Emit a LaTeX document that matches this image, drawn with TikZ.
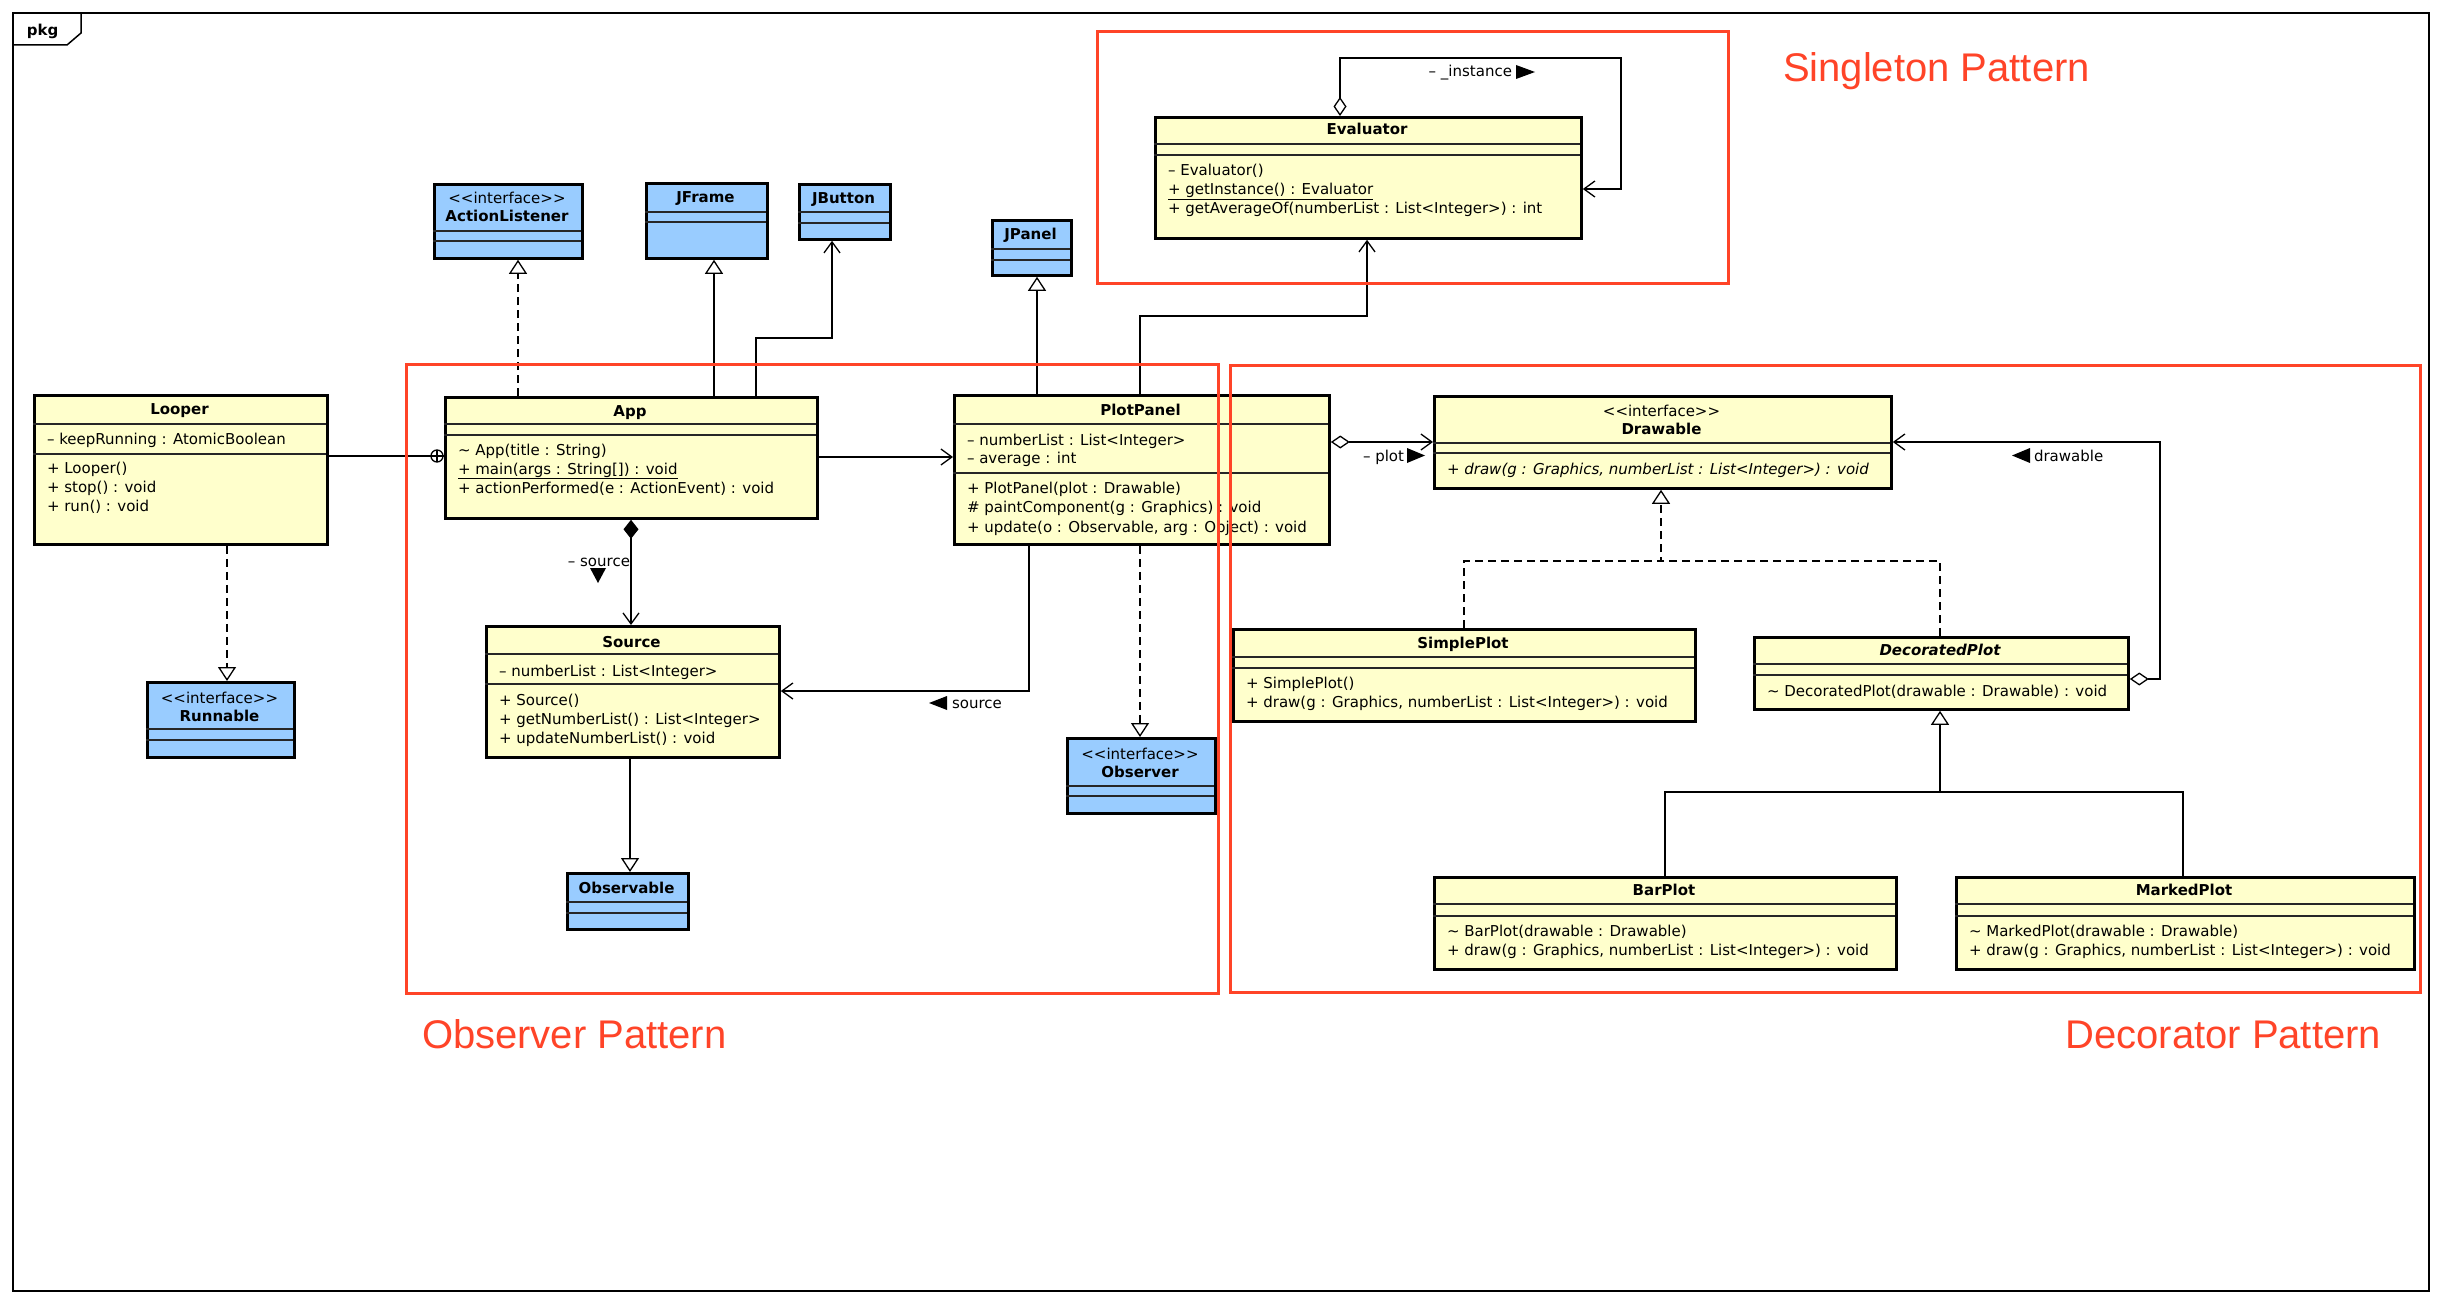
\documentclass[tikz,border=0pt]{standalone}
\usepackage{fontspec}
\setmainfont{DejaVu Sans}
\newfontfamily\patfont{Liberation Sans}
\usetikzlibrary{arrows.meta}
\definecolor{clsyellow}{HTML}{FFFFCC}
\definecolor{clsblue}{HTML}{99CCFF}
\definecolor{patred}{RGB}{255,68,40}
\newcommand\stereo{<\kern0pt<interface>\kern0pt>}
% name, left, top, right, bottom, fill, sep1, sep2
\newcommand\umlcls[8]{%
  \node[clsbox, fill=#6, minimum width={#4-#2}, minimum height={#5-#3}, anchor=north west] (#1) at (#2,#3) {};
  \draw[sepline] (#2,#7) -- (#4,#7) (#2,#8) -- (#4,#8);
}
\begin{document}
\begin{tikzpicture}[x=1pt,y=-1pt,
  clsbox/.style={draw=black, line width=2.8pt, inner sep=0pt},
  sepline/.style={line width=1.2pt, draw=black!85},
  mtext/.style={font=\fontsize{15}{18}\selectfont, inner sep=0pt, outer sep=0pt},
  ttext/.style={font=\fontsize{15}{18}\selectfont\bfseries, inner sep=0pt, outer sep=0pt},
  conn/.style={line width=1.3pt, draw=black},
  dashconn/.style={conn, dash pattern=on 8pt off 5pt},
  gentip/.style={-{Triangle[length=14pt,width=18pt,fill=white]}},
  navtip/.style={-{Straight Barb[length=11pt,width=16pt]}},
  comptip/.style={{Diamond[length=19pt,width=15pt]}-{Straight Barb[length=11pt,width=16pt]}},
  aggtip/.style={{Diamond[length=19pt,width=13pt,fill=white]}-{Straight Barb[length=11pt,width=16pt]}},
  redbox/.style={draw=patred, line width=3pt},
  pattxt/.style={font=\patfont\fontsize{40}{48}\selectfont, text=patred, inner sep=0pt, outer sep=0pt},
]
\fill[white] (0,0) rectangle (2440,1300);
\useasboundingbox (0,0) rectangle (2440,1300);

% frame
\draw[line width=1.5pt] (13,13) rectangle (2429,1291);
\draw[line width=1.5pt] (13,45) -- (67,45) -- (81,33) -- (81,13);
\node[ttext, anchor=base west] (pkglbl) at (27,36) {pkg};

% ---------------- classes ----------------
\umlcls{Looper}{33}{394}{326}{543}{clsyellow}{424}{454}
\node[ttext, anchor=base] (looper-t) at (179.5,414) {Looper};
\node[mtext, anchor=base west] (looper-a1) at (47,444) {– keepRunning : AtomicBoolean};
\node[mtext, anchor=base west] (looper-m1) at (47,473) {+ Looper()};
\node[mtext, anchor=base west] (looper-m2) at (47,492) {+ stop() : void};
\node[mtext, anchor=base west] (looper-m3) at (47,511) {+ run() : void};

\umlcls{Runnable}{146}{681}{293}{756}{clsblue}{729}{740}
\node[mtext, anchor=base] (runnable-s) at (219.5,703) {\stereo};
\node[ttext, anchor=base] (runnable-t) at (219.5,721) {Runnable};

\umlcls{ActionListener}{433}{183}{581}{257}{clsblue}{231}{241}
\node[mtext, anchor=base] (al-s) at (507,204) {\stereo};
\node[ttext, anchor=base] (al-t) at (507,222) {ActionListener};

\umlcls{JFrame}{645}{182}{766}{257}{clsblue}{212}{222}
\node[ttext, anchor=base] (jframe-t) at (705.5,202) {JFrame};

\umlcls{JButton}{798}{183}{889}{238}{clsblue}{212}{223}
\node[ttext, anchor=base] (jbutton-t) at (843.5,204) {JButton};

\umlcls{App}{444}{396}{816}{517}{clsyellow}{424}{435}
\node[ttext, anchor=base] (app-t) at (630,416) {App};
\node[mtext, anchor=base west] (app-m1) at (458,455) {\textasciitilde{} App(title : String)};
\node[mtext, anchor=base west] (app-m2) at (458,474) {\underline{+ main(args : String[]) : void}};
\node[mtext, anchor=base west] (app-m3) at (458,493) {+ actionPerformed(e : ActionEvent) : void};

\umlcls{Source}{485}{625}{778}{756}{clsyellow}{654}{684}
\node[ttext, anchor=base] (source-t) at (631.5,647) {Source};
\node[mtext, anchor=base west] (source-a1) at (499,676) {– numberList : List<Integer>};
\node[mtext, anchor=base west] (source-m1) at (499,705) {+ Source()};
\node[mtext, anchor=base west] (source-m2) at (499,724) {+ getNumberList() : List<Integer>};
\node[mtext, anchor=base west] (source-m3) at (499,743) {+ updateNumberList() : void};

\umlcls{Observable}{566}{872}{687}{928}{clsblue}{902}{913}
\node[ttext, anchor=base] (observable-t) at (626.5,893) {Observable};

\umlcls{JPanel}{991}{219}{1070}{274}{clsblue}{249}{260}
\node[ttext, anchor=base] (jpanel-t) at (1030.5,239) {JPanel};

\umlcls{PlotPanel}{953}{394}{1328}{543}{clsyellow}{424}{473}
\node[ttext, anchor=base] (pp-t) at (1140.5,415) {PlotPanel};
\node[mtext, anchor=base west] (pp-a1) at (967,445) {– numberList : List<Integer>};
\node[mtext, anchor=base west] (pp-a2) at (967,463) {– average : int};
\node[mtext, anchor=base west] (pp-m1) at (967,493) {+ PlotPanel(plot : Drawable)};
\node[mtext, anchor=base west] (pp-m2) at (967,512) {\# paintComponent(g : Graphics) : void};
\node[mtext, anchor=base west] (pp-m3) at (967,532) {+ update(o : Observable, arg : Object) : void};

\umlcls{Observer}{1066}{737}{1214}{812}{clsblue}{786}{796}
\node[mtext, anchor=base] (observer-s) at (1140,759) {\stereo};
\node[ttext, anchor=base] (observer-t) at (1140,777) {Observer};

\umlcls{Evaluator}{1154}{116}{1580}{237}{clsyellow}{144}{155}
\node[ttext, anchor=base] (eval-t) at (1367,135) {Evaluator};
\node[mtext, anchor=base west] (eval-m1) at (1168,176) {– Evaluator()};
\node[mtext, anchor=base west] (eval-m2) at (1168,195) {\underline{+ getInstance() : Evaluator}};
\node[mtext, anchor=base west] (eval-m3) at (1168,214) {+ getAverageOf(numberList : List<Integer>) : int};

\umlcls{Drawable}{1433}{395}{1890}{487}{clsyellow}{443}{453}
\node[mtext, anchor=base] (draw-s) at (1661.5,416) {\stereo};
\node[ttext, anchor=base] (draw-t) at (1661.5,434) {Drawable};
\node[mtext, anchor=base west] (draw-m1) at (1447,474) {\itshape + draw(g : Graphics, numberList : List<Integer>) : void};

\umlcls{SimplePlot}{1232}{628}{1694}{720}{clsyellow}{657}{668}
\node[ttext, anchor=base] (sp-t) at (1463,648) {SimplePlot};
\node[mtext, anchor=base west] (sp-m1) at (1246,688) {+ SimplePlot()};
\node[mtext, anchor=base west] (sp-m2) at (1246,707) {+ draw(g : Graphics, numberList : List<Integer>) : void};

\umlcls{DecoratedPlot}{1753}{636}{2127}{708}{clsyellow}{664}{675}
\node[ttext, anchor=base] (dp-t) at (1940,655) {\itshape DecoratedPlot};
\node[mtext, anchor=base west] (dp-m1) at (1767,696) {\textasciitilde{} DecoratedPlot(drawable : Drawable) : void};

\umlcls{BarPlot}{1433}{876}{1895}{968}{clsyellow}{904}{916}
\node[ttext, anchor=base] (bp-t) at (1664,895) {BarPlot};
\node[mtext, anchor=base west] (bp-m1) at (1447,936) {\textasciitilde{} BarPlot(drawable : Drawable)};
\node[mtext, anchor=base west] (bp-m2) at (1447,955) {+ draw(g : Graphics, numberList : List<Integer>) : void};

\umlcls{MarkedPlot}{1955}{876}{2413}{968}{clsyellow}{904}{916}
\node[ttext, anchor=base] (mp-t) at (2184,895) {MarkedPlot};
\node[mtext, anchor=base west] (mp-m1) at (1969,936) {\textasciitilde{} MarkedPlot(drawable : Drawable)};
\node[mtext, anchor=base west] (mp-m2) at (1969,955) {+ draw(g : Graphics, numberList : List<Integer>) : void};

% ---------------- connectors ----------------
\draw[dashconn, gentip] (Looper.south -| 227,0) -- (Runnable.north -| 227,0);
\draw[dashconn, gentip] (App.north -| 518,0) -- (ActionListener.south -| 518,0);
\draw[conn, gentip] (App.north -| 714,0) -- (JFrame.south -| 714,0);
\draw[conn, navtip] (App.north -| 756,0) |- (832,338) -- (JButton.south -| 832,0);
\draw[conn] (Looper.east |- 0,456) -- (App.west |- 0,456);
\draw[conn, fill=white] (437,456) circle (6);
\draw[conn] (431,456) -- (443,456) (437,450) -- (437,462);
\draw[conn, navtip] (App.east |- 0,457) -- (PlotPanel.west |- 0,457);
\draw[conn, comptip] (App.south -| 631,0) -- (Source.north -| 631,0);
\draw[conn, navtip] (PlotPanel.south -| 1029,0) |- (Source.east |- 0,691);
\draw[conn, gentip] (PlotPanel.north -| 1037,0) -- (JPanel.south -| 1037,0);
\draw[dashconn, gentip] (PlotPanel.south -| 1140,0) -- (Observer.north -| 1140,0);
\draw[conn, navtip] (PlotPanel.north -| 1140,0) |- (1367,316) -- (Evaluator.south -| 1367,0);
\draw[conn, gentip] (Source.south -| 630,0) -- (Observable.north -| 630,0);
\draw[conn, aggtip] (Evaluator.north -| 1340,0) |- (1621,58) |- (Evaluator.east |- 0,189);
\draw[conn, aggtip] (PlotPanel.east |- 0,442) -- (Drawable.west |- 0,442);
\draw[dashconn, gentip] (SimplePlot.north -| 1464,0) |- (1661,561) -- (Drawable.south -| 1661,0);
\draw[dashconn] (DecoratedPlot.north -| 1940,0) |- (1661,561);
\draw[conn, aggtip] (DecoratedPlot.east |- 0,679) -| (2160,442) -- (Drawable.east |- 0,442);
\draw[conn, gentip] (BarPlot.north -| 1665,0) |- (1940,792) -- (DecoratedPlot.south -| 1940,0);
\draw[conn] (MarkedPlot.north -| 2183,0) |- (1940,792);

% connector labels
\node[mtext, anchor=base east] (lbl-source1) at (630,566) {– source};
\fill (590,568) -- (606,568) -- (598,583) -- cycle;
\node[mtext, anchor=base west] (lbl-source2) at (952,708) {source};
\fill (947,696) -- (947,710) -- (929,703) -- cycle;
\node[mtext, anchor=base east] (lbl-inst) at (1512,77) {– \_instance};
\fill (1516,65) -- (1516,79) -- (1535,72) -- cycle;
\node[mtext, anchor=base east] (lbl-plot) at (1404,461) {– plot};
\fill (1407,448) -- (1407,463) -- (1425,455.5) -- cycle;
\node[mtext, anchor=base west] (lbl-drawable) at (2034,461) {drawable};
\fill (2030,448) -- (2030,463) -- (2012,455.5) -- cycle;

% ---------------- pattern regions ----------------
\draw[redbox] (406,364) rectangle (1218,993);
\draw[redbox] (1230,365) rectangle (2420,992);
\draw[redbox] (1097,32) rectangle (1728,283);
\node[pattxt, anchor=base west] (pat-singleton) at (1783,82) {Singleton Pattern};
\node[pattxt, anchor=base west] (pat-observer) at (422,1048) {Observer Pattern};
\node[pattxt, anchor=base east] (pat-decorator) at (2381,1048) {Decorator Pattern};
\end{tikzpicture}
\end{document}
